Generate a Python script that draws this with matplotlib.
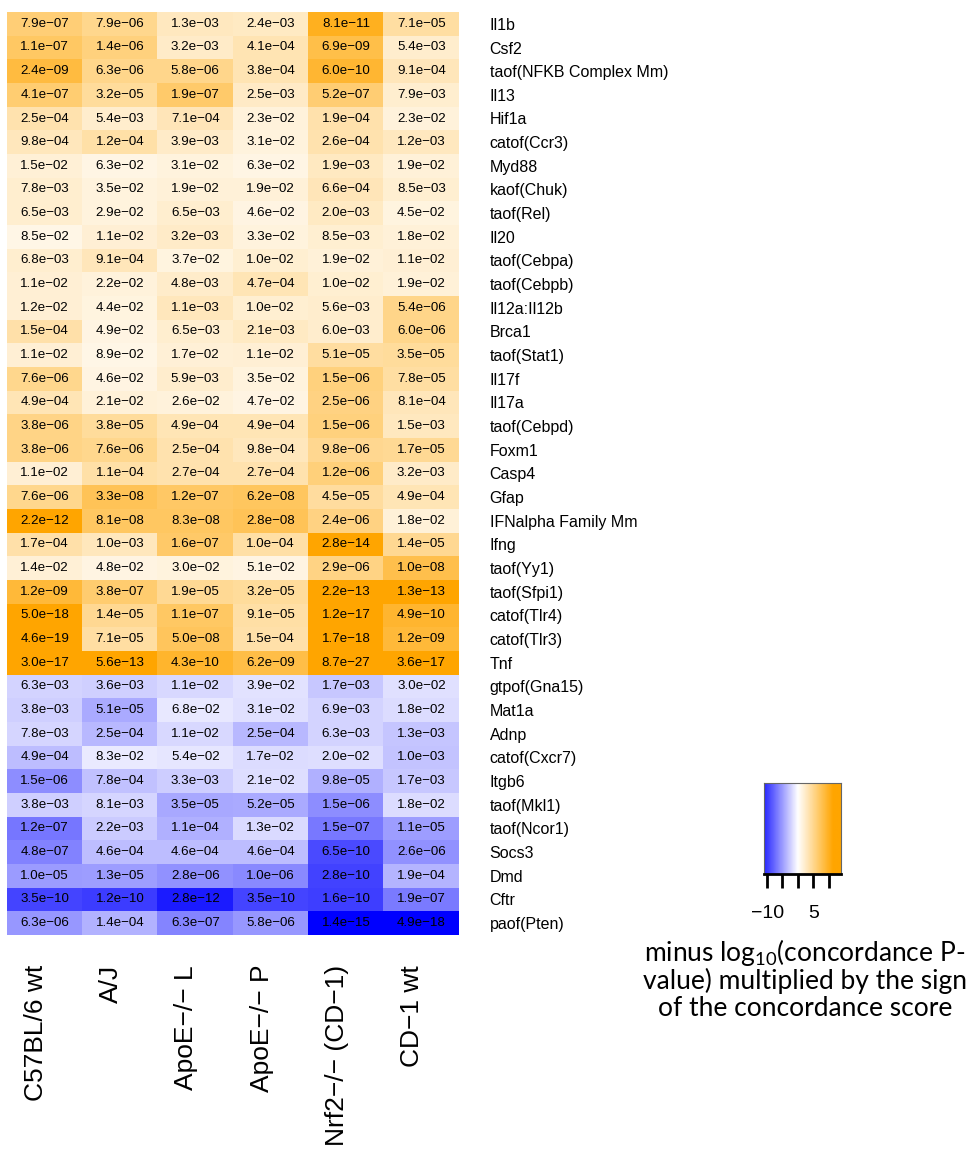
import numpy as np
import matplotlib
matplotlib.use("Agg")
import matplotlib.pyplot as plt
from matplotlib.colors import LinearSegmentedColormap, Normalize
from matplotlib.transforms import offset_copy

plt.rcParams["font.family"] = ["Liberation Sans", "DejaVu Sans"]

# strains (columns) and genes / regulators (rows)
strains = ["C57BL/6 wt", "A/J", "ApoE\u2212/\u2212 L", "ApoE\u2212/\u2212 P",
           "Nrf2\u2212/\u2212 (CD\u22121)", "CD\u22121 wt"]

genes = ["Il1b", "Csf2", "taof(NFKB Complex Mm)", "Il13", "Hif1a", "catof(Ccr3)",
         "Myd88", "kaof(Chuk)", "taof(Rel)", "Il20", "taof(Cebpa)", "taof(Cebpb)",
         "Il12a:Il12b", "Brca1", "taof(Stat1)", "Il17f", "Il17a", "taof(Cebpd)",
         "Foxm1", "Casp4", "Gfap", "IFNalpha Family Mm", "Ifng", "taof(Yy1)",
         "taof(Sfpi1)", "catof(Tlr4)", "catof(Tlr3)", "Tnf",
         "gtpof(Gna15)", "Mat1a", "Adnp", "catof(Cxcr7)", "Itgb6", "taof(Mkl1)",
         "taof(Ncor1)", "Socs3", "Dmd", "Cftr", "paof(Pten)"]

# sign of the concordance score per row (+1 activated, -1 inhibited)
signs = [1] * 28 + [-1] * 11

# concordance p-values, one list per row
pvals = [
    [7.9e-07, 7.9e-06, 1.3e-03, 2.4e-03, 8.1e-11, 7.1e-05],
    [1.1e-07, 1.4e-06, 3.2e-03, 4.1e-04, 6.9e-09, 5.4e-03],
    [2.4e-09, 6.3e-06, 5.8e-06, 3.8e-04, 6.0e-10, 9.1e-04],
    [4.1e-07, 3.2e-05, 1.9e-07, 2.5e-03, 5.2e-07, 7.9e-03],
    [2.5e-04, 5.4e-03, 7.1e-04, 2.3e-02, 1.9e-04, 2.3e-02],
    [9.8e-04, 1.2e-04, 3.9e-03, 3.1e-02, 2.6e-04, 1.2e-03],
    [1.5e-02, 6.3e-02, 3.1e-02, 6.3e-02, 1.9e-03, 1.9e-02],
    [7.8e-03, 3.5e-02, 1.9e-02, 1.9e-02, 6.6e-04, 8.5e-03],
    [6.5e-03, 2.9e-02, 6.5e-03, 4.6e-02, 2.0e-03, 4.5e-02],
    [8.5e-02, 1.1e-02, 3.2e-03, 3.3e-02, 8.5e-03, 1.8e-02],
    [6.8e-03, 9.1e-04, 3.7e-02, 1.0e-02, 1.9e-02, 1.1e-02],
    [1.1e-02, 2.2e-02, 4.8e-03, 4.7e-04, 1.0e-02, 1.9e-02],
    [1.2e-02, 4.4e-02, 1.1e-03, 1.0e-02, 5.6e-03, 5.4e-06],
    [1.5e-04, 4.9e-02, 6.5e-03, 2.1e-03, 6.0e-03, 6.0e-06],
    [1.1e-02, 8.9e-02, 1.7e-02, 1.1e-02, 5.1e-05, 3.5e-05],
    [7.6e-06, 4.6e-02, 5.9e-03, 3.5e-02, 1.5e-06, 7.8e-05],
    [4.9e-04, 2.1e-02, 2.6e-02, 4.7e-02, 2.5e-06, 8.1e-04],
    [3.8e-06, 3.8e-05, 4.9e-04, 4.9e-04, 1.5e-06, 1.5e-03],
    [3.8e-06, 7.6e-06, 2.5e-04, 9.8e-04, 9.8e-06, 1.7e-05],
    [1.1e-02, 1.1e-04, 2.7e-04, 2.7e-04, 1.2e-06, 3.2e-03],
    [7.6e-06, 3.3e-08, 1.2e-07, 6.2e-08, 4.5e-05, 4.9e-04],
    [2.2e-12, 8.1e-08, 8.3e-08, 2.8e-08, 2.4e-06, 1.8e-02],
    [1.7e-04, 1.0e-03, 1.6e-07, 1.0e-04, 2.8e-14, 1.4e-05],
    [1.4e-02, 4.8e-02, 3.0e-02, 5.1e-02, 2.9e-06, 1.0e-08],
    [1.2e-09, 3.8e-07, 1.9e-05, 3.2e-05, 2.2e-13, 1.3e-13],
    [5.0e-18, 1.4e-05, 1.1e-07, 9.1e-05, 1.2e-17, 4.9e-10],
    [4.6e-19, 7.1e-05, 5.0e-08, 1.5e-04, 1.7e-18, 1.2e-09],
    [3.0e-17, 5.6e-13, 4.3e-10, 6.2e-09, 8.7e-27, 3.6e-17],
    [6.3e-03, 3.6e-03, 1.1e-02, 3.9e-02, 1.7e-03, 3.0e-02],
    [3.8e-03, 5.1e-05, 6.8e-02, 3.1e-02, 6.9e-03, 1.8e-02],
    [7.8e-03, 2.5e-04, 1.1e-02, 2.5e-04, 6.3e-03, 1.3e-03],
    [4.9e-04, 8.3e-02, 5.4e-02, 1.7e-02, 2.0e-02, 1.0e-03],
    [1.5e-06, 7.8e-04, 3.3e-03, 2.1e-02, 9.8e-05, 1.7e-03],
    [3.8e-03, 8.1e-03, 3.5e-05, 5.2e-05, 1.5e-06, 1.8e-02],
    [1.2e-07, 2.2e-03, 1.1e-04, 1.3e-02, 1.5e-07, 1.1e-05],
    [4.8e-07, 4.6e-04, 4.6e-04, 4.6e-04, 6.5e-10, 2.6e-06],
    [1.0e-05, 1.3e-05, 2.8e-06, 1.0e-06, 2.8e-10, 1.9e-04],
    [3.5e-10, 1.2e-10, 2.8e-12, 3.5e-10, 1.6e-10, 1.9e-07],
    [6.3e-06, 1.4e-04, 6.3e-07, 5.8e-06, 1.4e-15, 4.9e-18],
]

cb_ticks = [-10, -5, 0, 5, 10]
cb_labels = ["\u221210", "", "", "5", ""]

P = np.array(pvals)
score = -np.log10(P) * np.array(signs)[:, None]

# key range and where the colours saturate
vmin, vmax = -11, 14
blue_sat, orange_sat = -13.0, 11.5
lo, hi = min(vmin, blue_sat), max(vmax, orange_sat)
pos = lambda v: (v - lo) / (hi - lo)
cmap = LinearSegmentedColormap.from_list(
    "bwo", [(0.0, "#0000FF"), (pos(blue_sat), "#0000FF"), (pos(0), "#FFFFFF"),
            (pos(orange_sat), "#FFA500"), (1.0, "#FFA500")])
norm = Normalize(vmin=lo, vmax=hi, clip=True)

W, H = 969, 1152
fig = plt.figure(figsize=(W / 100, H / 100), dpi=100)
ax = fig.add_axes([7 / W, 1 - 935 / H, 452 / W, 923 / H])
ax.imshow(score, cmap=cmap, norm=norm, aspect="auto", interpolation="nearest")

for i in range(P.shape[0]):
    for j in range(P.shape[1]):
        txt = f"{P[i, j]:.1e}".replace("-", "\u2212")
        ax.text(j, i, txt, ha="center", va="center", fontsize=9.6, color="black")

for s in ax.spines.values():
    s.set_visible(False)

ax.yaxis.tick_right()
ax.set_yticks(range(len(genes)))
ax.set_yticklabels(genes, fontsize=11.5)
ax.tick_params(axis="y", length=0, pad=22)
ax.set_xticks([])

# column labels, rotated, slightly left of cell centres as in R heatmap
tr = offset_copy(ax.get_xaxis_transform(), fig=fig, x=-9, y=-30, units="dots")
for j, name in enumerate(strains):
    ax.text(j, 0, name, rotation=90, ha="center", va="top", fontsize=19,
            transform=tr)

# colour key
cax = fig.add_axes([764 / W, 1 - 874 / H, 77 / W, 91 / H])
grad = np.linspace(vmin, vmax, 256)[None, :]
cax.imshow(grad, cmap=cmap, norm=norm, aspect="auto", extent=[vmin, vmax, 0, 1])
cax.set_yticks([])
cax.set_xticks(cb_ticks)
cax.set_xticklabels(cb_labels, fontsize=14)
cax.tick_params(axis="x", length=10, width=2, pad=12)
for k, s in cax.spines.items():
    s.set_color("#666666")
    s.set_linewidth(0.8)
cax.spines["bottom"].set_color("black")
cax.spines["bottom"].set_linewidth(2)

key_lines = [r"minus log$\mathregular{_{10}}$(concordance P-",
             "value) multiplied by the sign",
             "of the concordance score"]
for k, line in enumerate(key_lines):
    fig.text(805 / W, 1 - (953 + 28 * k) / H, line, ha="center", va="center",
             fontsize=19, family="Lato")

fig.savefig("out.png", dpi=100)
